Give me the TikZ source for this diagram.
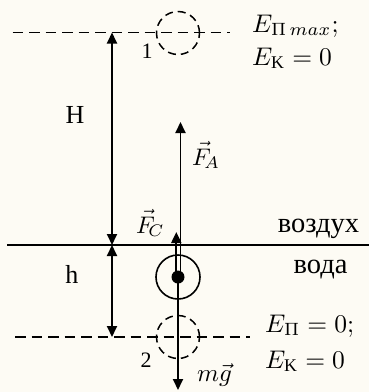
\RequirePackage{fix-cm}
\documentclass[tikz,border=0pt]{standalone}
\usepackage{graphicx}
\usepackage{fontspec}
\setmainfont{Liberation Serif}
\usetikzlibrary{arrows.meta}
\definecolor{bgc}{RGB}{253,251,244}
\begin{document}
\begin{tikzpicture}[x=1pt,y=-1pt,
  tip/.style={-{Triangle[length=11pt,width=10pt]}},
  arr/.style={line width=1.9pt, tip},
  darr/.style={line width=1.9pt, {Triangle[length=11pt,width=10pt]}-{Triangle[length=11pt,width=10pt]}},
  dline/.style={line width=1.7pt, dash pattern=on 10.5pt off 6pt},
  dcirc/.style={circle, draw, line width=1.5pt, dash pattern=on 8pt off 5pt, minimum size=43pt, inner sep=0pt},
  elbl/.style={inner sep=0pt, anchor=base west, font=\normalsize},
  tlbl/.style={inner sep=0pt, anchor=base, font=\fontsize{26}{30}\selectfont},
  flbl/.style={inner sep=0pt, anchor=base west, font=\normalsize},
]
\fill[bgc] (0,0) rectangle (369,392);
\useasboundingbox (0,0) rectangle (369,392);

% levels
\coordinate (topL) at (12.7,32.5);
\coordinate (topR) at (230,32.5);
\coordinate (botL) at (15,337);
\coordinate (botR) at (250,337);
\coordinate (surfL) at (7,245);
\coordinate (surfR) at (369,245);

\draw[dline] (topL) -- (topR);
\draw[dline] (botL) -- (botR);
\draw[line width=1.6pt] (surfL) -- (surfR);

% positions of the ball
\node[dcirc] (p1) at (178,33) {};
\node[dcirc] (p2) at (178,337) {};
\node[circle, draw, line width=1.6pt, minimum size=44pt, inner sep=0pt] (ball) at (178,277) {};
\node[circle, fill, minimum size=13pt, inner sep=0pt] (dot) at (178,277) {};

% height arrows
\coordinate (Htop) at (112,32.5);
\coordinate (Hmid) at (112,245);
\coordinate (hbot) at (112,337);
\draw[darr] (Hmid) -- (Htop);
\draw[darr] (Hmid) -- (hbot);

% forces
\coordinate (faS) at (180.5,277);
\coordinate (faE) at (180.5,122);
\coordinate (fcS) at (176.3,277);
\coordinate (fcE) at (176.3,232);
\coordinate (mgE) at (178,390);
\draw[arr] (faS) -- (faE);
\draw[arr] (fcS) -- (fcE);
\draw[arr] (dot.center) -- (mgE);

% labels
\node[elbl] (e1) at (252,32) {\scalebox{2.55}{$E_{\Pi\,max};$}};
\node[elbl] (e2) at (252,65) {\scalebox{2.55}{$E_{\mathrm{K}} = 0$}};
\node[elbl] (e3) at (265,332) {\scalebox{2.55}{$E_{\Pi} = 0;$}};
\node[elbl] (e4) at (265,368) {\scalebox{2.55}{$E_{\mathrm{K}} = 0$}};

\node[tlbl, font=\fontsize{22}{26}\selectfont] (n1) at (147,58) {1};
\node[tlbl, font=\fontsize{22}{26}\selectfont] (n2) at (146,367) {2};
\node[tlbl] (lH) at (75,123) {H};
\node[tlbl] (lh) at (72,283) {h};
\node[tlbl, font=\fontsize{28.5}{32}\selectfont] (air) at (318.5,232) {воздух};
\node[tlbl, font=\fontsize{28.5}{32}\selectfont] (water) at (320.5,273) {вода};

\node[flbl] (lfa) at (192,165) {\scalebox{2.4}{$\vec{F}_{\!A}$}};
\node[flbl] (lfc) at (136,233) {\scalebox{2.4}{$\vec{F}_{\!C}$}};
\node[flbl] (lmg) at (197,381) {\scalebox{2.5}{$m\vec{g}$}};
\end{tikzpicture}
\end{document}
